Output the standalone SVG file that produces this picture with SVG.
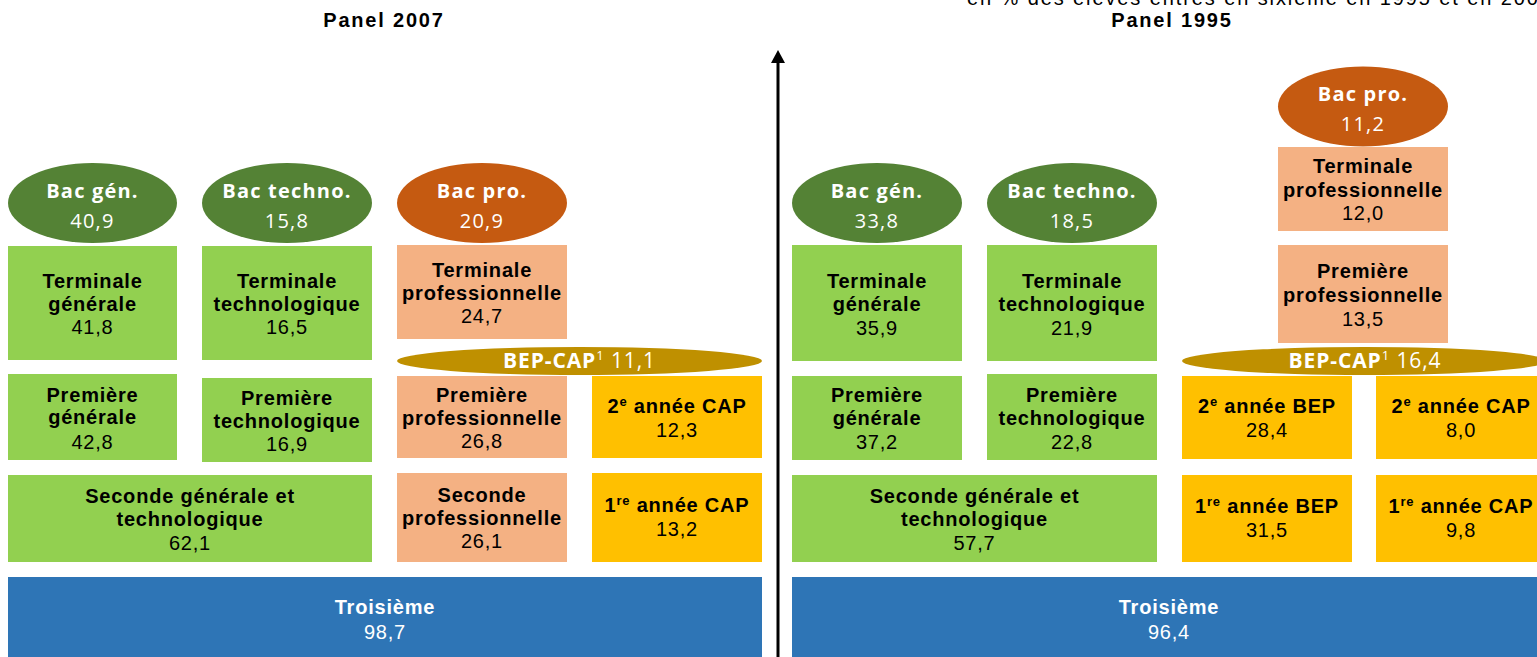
<svg xmlns="http://www.w3.org/2000/svg" width="1537" height="657" viewBox="0 0 1537 657">
<defs>
<style>
.lg{fill:#92D050}.dg{fill:#548235}.or{fill:#C55A11}.sa{fill:#F4B183}.ye{fill:#FFC000}.gd{fill:#BF9000}.bl{fill:#2E75B6}
.t{font-family:"Liberation Sans",Arial,sans-serif;font-size:20px;text-anchor:middle;letter-spacing:0.8px;fill:#000}
.b{font-weight:bold}
.w{fill:#fff}
.e{font-family:"Open Sans","Noto Sans",sans-serif;font-size:20px;text-anchor:middle;fill:#fff;letter-spacing:1.2px}
.bc{font-size:21px;letter-spacing:0.9px}
.ti{font-family:"Liberation Sans",Arial,sans-serif;font-size:20px;font-weight:bold;text-anchor:middle;letter-spacing:1.8px;fill:#000}
.sub{font-family:"Liberation Sans",Arial,sans-serif;font-size:20px;letter-spacing:1.9px;fill:#000}
</style>
<marker id="ah" markerWidth="14" markerHeight="14" viewBox="0 0 14 14" refX="0" refY="7" orient="auto" markerUnits="userSpaceOnUse">
<path d="M0,0 L13,7 L0,14 z" fill="#000"/>
</marker>
</defs>
<rect width="1537" height="657" fill="#fff"/>

<text class="sub" x="967" y="5">en % des élèves entrés en sixième en 1995 et en 2007</text>
<text class="ti" x="384" y="27">Panel 2007</text>
<text class="ti" x="1172" y="27">Panel 1995</text>

<g id="connectors">
<line x1="778" y1="657" x2="778" y2="63" stroke="#000" stroke-width="3" marker-end="url(#ah)"/>
</g>

<!-- Panel 2007 -->
<g id="bacgen07"><ellipse class="dg" cx="92.5" cy="203" rx="84.5" ry="40"/><text class="e" font-weight="bold" x="92.5" y="198">Bac gén.</text><text class="e" x="92.5" y="228">40,9</text></g>
<g id="bactech07"><ellipse class="dg" cx="287" cy="203" rx="85" ry="40"/><text class="e" font-weight="bold" x="287" y="198">Bac techno.</text><text class="e" x="287" y="228">15,8</text></g>
<g id="bacpro07"><ellipse class="or" cx="482" cy="203" rx="85" ry="40"/><text class="e" font-weight="bold" x="482" y="198">Bac pro.</text><text class="e" x="482" y="228">20,9</text></g>

<g id="termgen07"><rect class="lg" x="8" y="246" width="169" height="114"/><text class="t b" x="92.5" y="288">Terminale</text><text class="t b" x="92.5" y="311">générale</text><text class="t" x="92.5" y="334">41,8</text></g>
<g id="termtech07"><rect class="lg" x="202" y="246" width="170" height="114"/><text class="t b" x="287" y="288">Terminale</text><text class="t b" x="287" y="311">technologique</text><text class="t" x="287" y="334">16,5</text></g>
<g id="termpro07"><rect class="sa" x="397" y="245" width="170" height="94"/><text class="t b" x="482" y="277">Terminale</text><text class="t b" x="482" y="300">professionnelle</text><text class="t" x="482" y="323">24,7</text></g>

<g id="bepcap07"><ellipse class="gd" cx="579.5" cy="361" rx="182.5" ry="14"/><text class="e bc" x="579.5" y="368"><tspan font-weight="bold">BEP-CAP</tspan><tspan font-size="13" dy="-8">1</tspan><tspan dy="8"> 11,1</tspan></text></g>

<g id="premgen07"><rect class="lg" x="8" y="374" width="169" height="86"/><text class="t b" x="92.5" y="402">Première</text><text class="t b" x="92.5" y="424">générale</text><text class="t" x="92.5" y="449">42,8</text></g>
<g id="premtech07"><rect class="lg" x="202" y="378" width="170" height="84"/><text class="t b" x="287" y="405">Première</text><text class="t b" x="287" y="428">technologique</text><text class="t" x="287" y="451">16,9</text></g>
<g id="prempro07"><rect class="sa" x="397" y="376" width="170" height="82"/><text class="t b" x="482" y="402">Première</text><text class="t b" x="482" y="425">professionnelle</text><text class="t" x="482" y="448">26,8</text></g>
<g id="cap2_07"><rect class="ye" x="592" y="376" width="170" height="82"/><text class="t b" x="677" y="413">2<tspan font-size="13" dy="-7">e</tspan><tspan dy="7"> année CAP</tspan></text><text class="t" x="677" y="437">12,3</text></g>

<g id="secgt07"><rect class="lg" x="8" y="475" width="364" height="87"/><text class="t b" x="190" y="503">Seconde générale et</text><text class="t b" x="190" y="526">technologique</text><text class="t" x="190" y="550">62,1</text></g>
<g id="secpro07"><rect class="sa" x="397" y="473" width="170" height="89"/><text class="t b" x="482" y="502">Seconde</text><text class="t b" x="482" y="525">professionnelle</text><text class="t" x="482" y="548">26,1</text></g>
<g id="cap1_07"><rect class="ye" x="592" y="473" width="170" height="89"/><text class="t b" x="677" y="512">1<tspan font-size="13" dy="-7">re</tspan><tspan dy="7"> année CAP</tspan></text><text class="t" x="677" y="536">13,2</text></g>

<g id="trois07"><rect class="bl" x="8" y="577" width="754" height="80"/><text class="t b w" x="385" y="614">Troisième</text><text class="t w" x="385" y="639">98,7</text></g>

<!-- Panel 1995 -->
<g id="bacgen95"><ellipse class="dg" cx="877" cy="203" rx="85" ry="40"/><text class="e" font-weight="bold" x="877" y="198">Bac gén.</text><text class="e" x="877" y="228">33,8</text></g>
<g id="bactech95"><ellipse class="dg" cx="1072" cy="203" rx="85" ry="40"/><text class="e" font-weight="bold" x="1072" y="198">Bac techno.</text><text class="e" x="1072" y="228">18,5</text></g>
<g id="bacpro95"><ellipse class="or" cx="1363" cy="106.5" rx="85" ry="40"/><text class="e" font-weight="bold" x="1363" y="101">Bac pro.</text><text class="e" x="1363" y="131">11,2</text></g>

<g id="termpro95"><rect class="sa" x="1278" y="147" width="170" height="84"/><text class="t b" x="1363" y="173">Terminale</text><text class="t b" x="1363" y="197">professionnelle</text><text class="t" x="1363" y="220">12,0</text></g>
<g id="prempro95"><rect class="sa" x="1278" y="245" width="170" height="98"/><text class="t b" x="1363" y="278">Première</text><text class="t b" x="1363" y="302">professionnelle</text><text class="t" x="1363" y="326">13,5</text></g>

<g id="termgen95"><rect class="lg" x="792" y="245" width="170" height="116"/><text class="t b" x="877" y="288">Terminale</text><text class="t b" x="877" y="311">générale</text><text class="t" x="877" y="335">35,9</text></g>
<g id="termtech95"><rect class="lg" x="987" y="245" width="170" height="116"/><text class="t b" x="1072" y="288">Terminale</text><text class="t b" x="1072" y="311">technologique</text><text class="t" x="1072" y="335">21,9</text></g>

<g id="bepcap95"><ellipse class="gd" cx="1364.5" cy="361" rx="182.5" ry="14"/><text class="e bc" x="1365" y="368"><tspan font-weight="bold">BEP-CAP</tspan><tspan font-size="13" dy="-8">1</tspan><tspan dy="8"> 16,4</tspan></text></g>

<g id="premgen95"><rect class="lg" x="792" y="376" width="170" height="84"/><text class="t b" x="877" y="402">Première</text><text class="t b" x="877" y="425">générale</text><text class="t" x="877" y="449">37,2</text></g>
<g id="premtech95"><rect class="lg" x="987" y="374" width="170" height="86"/><text class="t b" x="1072" y="402">Première</text><text class="t b" x="1072" y="425">technologique</text><text class="t" x="1072" y="449">22,8</text></g>
<g id="bep2_95"><rect class="ye" x="1182" y="376" width="170" height="83"/><text class="t b" x="1267" y="413">2<tspan font-size="13" dy="-7">e</tspan><tspan dy="7"> année BEP</tspan></text><text class="t" x="1267" y="437">28,4</text></g>
<g id="cap2_95"><rect class="ye" x="1376" y="376" width="170" height="83"/><text class="t b" x="1461" y="413">2<tspan font-size="13" dy="-7">e</tspan><tspan dy="7"> année CAP</tspan></text><text class="t" x="1461" y="437">8,0</text></g>

<g id="secgt95"><rect class="lg" x="792" y="475" width="365" height="87"/><text class="t b" x="974.5" y="503">Seconde générale et</text><text class="t b" x="974.5" y="526">technologique</text><text class="t" x="974.5" y="550">57,7</text></g>
<g id="bep1_95"><rect class="ye" x="1182" y="475" width="170" height="87"/><text class="t b" x="1267" y="513">1<tspan font-size="13" dy="-7">re</tspan><tspan dy="7"> année BEP</tspan></text><text class="t" x="1267" y="537">31,5</text></g>
<g id="cap1_95"><rect class="ye" x="1376" y="475" width="170" height="87"/><text class="t b" x="1461" y="513">1<tspan font-size="13" dy="-7">re</tspan><tspan dy="7"> année CAP</tspan></text><text class="t" x="1461" y="537">9,8</text></g>

<g id="trois95"><rect class="bl" x="792" y="577" width="754" height="80"/><text class="t b w" x="1169" y="614">Troisième</text><text class="t w" x="1169" y="639">96,4</text></g>
</svg>
